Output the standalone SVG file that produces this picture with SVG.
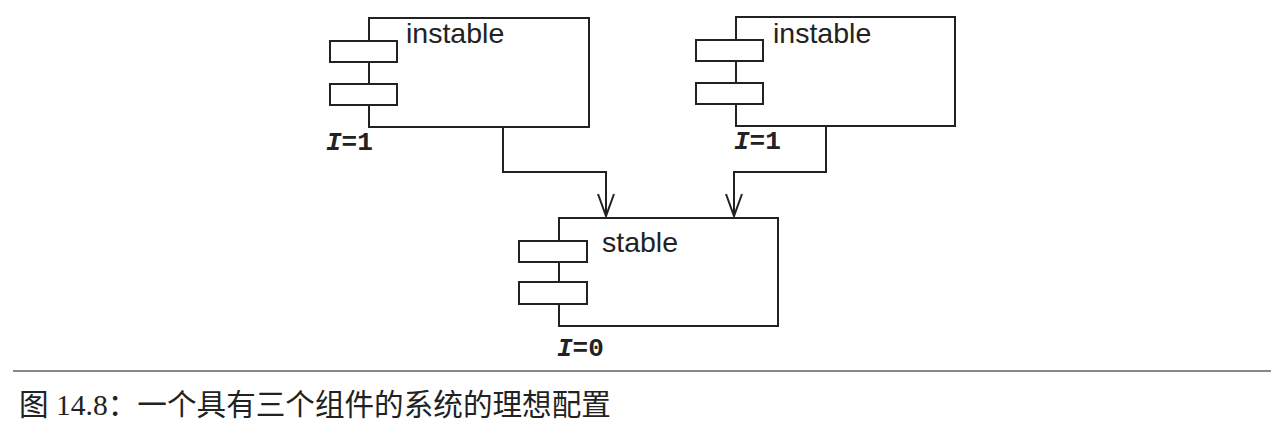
<svg xmlns="http://www.w3.org/2000/svg" width="1282" height="434" viewBox="0 0 1282 434">
<style>
.box{fill:#fff;stroke:#222;stroke-width:2}
.port{fill:#fff;stroke:#222;stroke-width:2}
.name{font-family:"Liberation Sans",Arial,sans-serif;font-size:28.5px;fill:#222}
.idx{font-family:"Liberation Mono","Courier New",monospace;font-size:26px;font-weight:bold;fill:#222}
.conn{fill:none;stroke:#222;stroke-width:2}
.head{fill:none;stroke:#222;stroke-width:2}
.cap{font-family:"Liberation Serif","Noto Sans CJK SC",serif;font-size:29.6px;fill:#222}
</style>
<rect width="1282" height="434" fill="#fff"/>
<g id="connectors">
<path class="conn" d="M503 127 V172 H606 V216"/>
<path class="conn" d="M826 126 V172 H734 V216"/>
<path class="head" d="M598 194 L606 216 L614 194"/>
<path class="head" d="M726 194 L734 216 L742 194"/>
</g>
<g id="instable-left">
<rect class="box" x="369" y="18" width="220" height="109"/>
<rect class="port" x="330" y="41" width="67" height="21"/>
<rect class="port" x="330" y="84" width="67" height="21"/>
<text class="name" x="406" y="43">instable</text>
<text class="idx" x="326" y="150"><tspan font-style="italic">I</tspan>=1</text>
</g>
<g id="instable-right">
<rect class="box" x="736" y="17" width="219" height="109"/>
<rect class="port" x="696" y="40" width="67" height="21"/>
<rect class="port" x="696" y="83" width="67" height="21"/>
<text class="name" x="773" y="43">instable</text>
<text class="idx" x="734" y="149"><tspan font-style="italic">I</tspan>=1</text>
</g>
<g id="stable">
<rect class="box" x="559" y="218" width="219" height="108"/>
<rect class="port" x="519" y="241" width="68" height="21"/>
<rect class="port" x="519" y="282" width="68" height="22"/>
<text class="name" x="602" y="252">stable</text>
<text class="idx" x="557" y="356"><tspan font-style="italic">I</tspan>=0</text>
</g>
<line x1="13" y1="371" x2="1271" y2="371" stroke="#888" stroke-width="2"/>
<text class="cap" x="19" y="415">图 14.8：一个具有三个组件的系统的理想配置</text>
</svg>
